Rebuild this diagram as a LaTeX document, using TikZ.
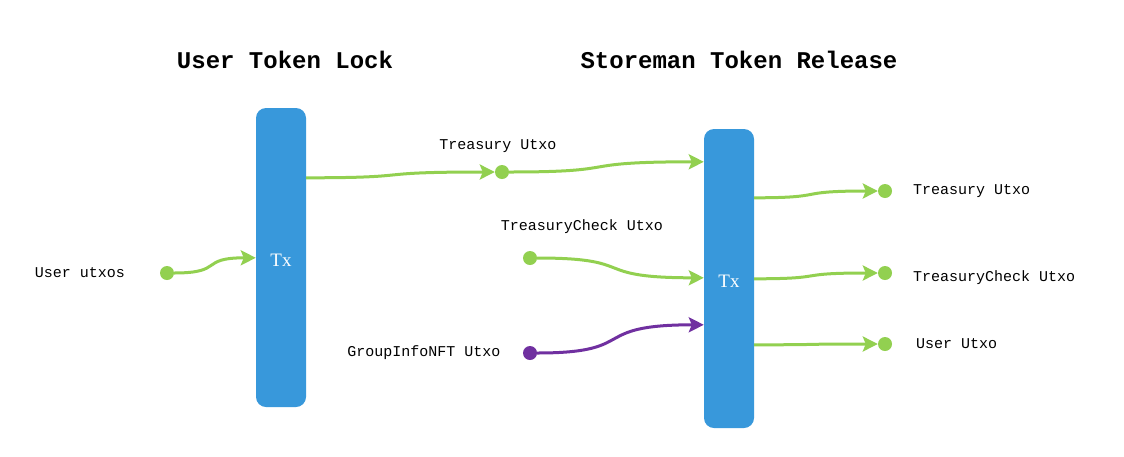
\documentclass[tikz,border=0pt]{standalone}
\usepackage{fontspec}
\setmainfont{Liberation Serif}
\newfontfamily\monofont{Liberation Mono}
\usetikzlibrary{arrows.meta,calc}
\definecolor{barblue}{RGB}{56,152,219}
\definecolor{lgreen}{RGB}{146,208,80}
\definecolor{dpurple}{RGB}{112,48,160}
\tikzset{
  txbar/.style={fill=barblue,draw=none,rounded corners=10pt,minimum width=50pt,minimum height=299pt,text=white,font=\fontsize{19}{19}\selectfont,inner sep=0pt,text height=18pt,text depth=0pt},
  gdot/.style={circle,fill=lgreen,draw=none,minimum size=14pt,inner sep=0pt},
  pdot/.style={circle,fill=dpurple,draw=none,minimum size=14pt,inner sep=0pt},
  lbl/.style={font=\monofont\fontsize{15}{15}\selectfont,inner sep=0pt},
  ttl/.style={font=\monofont\bfseries\fontsize{24}{24}\selectfont,inner sep=0pt},
  wave/.style={to path={let \p1=(\tikztostart), \p2=(\tikztotarget) in
     .. controls ({\x1+0.62*(\x2-\x1)},\y1) and ({\x1+0.3*(\x2-\x1)},\y2) .. (\tikztotarget)}},
  flow/.style={line width=3pt,-{Stealth[length=15pt,width=15pt,inset=3pt]},wave},
  gflow/.style={flow,draw=lgreen},
  pflow/.style={flow,draw=dpurple},
}
\begin{document}
\begin{tikzpicture}[x=1pt,y=-1pt]
\useasboundingbox (0,0) rectangle (1124,456);
% titles
\node[ttl] (t1) at (285,60) {User Token Lock};
\node[ttl] (t2) at (739,60) {Storeman Token Release};
% bars
\node[txbar] (ltx) at (281,257.5) {Tx};
\node[txbar] (rtx) at (729,278.5) {Tx};
% dots
\node[gdot] (ud) at (167,273) {};
\node[gdot] (td) at (502,172) {};
\node[gdot] (cd) at (530,258) {};
\node[pdot] (gd) at (530,353) {};
\node[gdot] (o1) at (885,191) {};
\node[gdot] (o2) at (885,273) {};
\node[gdot] (o3) at (885,344) {};
% labels
\node[lbl] (lu) at (80,273) {User utxos};
\node[lbl] (lt) at (498,146) {Treasury Utxo};
\node[lbl] (lc) at (582,227) {TreasuryCheck Utxo};
\node[lbl] (lg) at (424,353) {GroupInfoNFT Utxo};
\node[lbl,anchor=west] (r1) at (913,191) {Treasury Utxo};
\node[lbl,anchor=west] (r2) at (913,278) {TreasuryCheck Utxo};
\node[lbl,anchor=west] (r3) at (916,344) {User Utxo};
% coordinates on bars
\coordinate (la) at ($(ltx.north west)+(0,150)$);
\coordinate (lb) at ($(ltx.north east)+(0,70)$);
\coordinate (ra) at ($(rtx.north west)+(0,33)$);
\coordinate (rb) at ($(rtx.north west)+(0,149)$);
\coordinate (rc) at ($(rtx.north west)+(0,196)$);
\coordinate (rd) at ($(rtx.north east)+(0,69)$);
\coordinate (re) at ($(rtx.north east)+(0,150)$);
\coordinate (rf) at ($(rtx.north east)+(0,216)$);
% connectors
\draw[gflow] (ud.east) to (la);
\draw[gflow] (lb) to (td.west);
\draw[gflow] (td.east) to (ra);
\draw[gflow] (cd.east) to (rb);
\draw[pflow] (gd.east) to (rc);
\draw[gflow] (rd) to (o1.west);
\draw[gflow] (re) to (o2.west);
\draw[gflow] (rf) to (o3.west);
\end{tikzpicture}
\end{document}
